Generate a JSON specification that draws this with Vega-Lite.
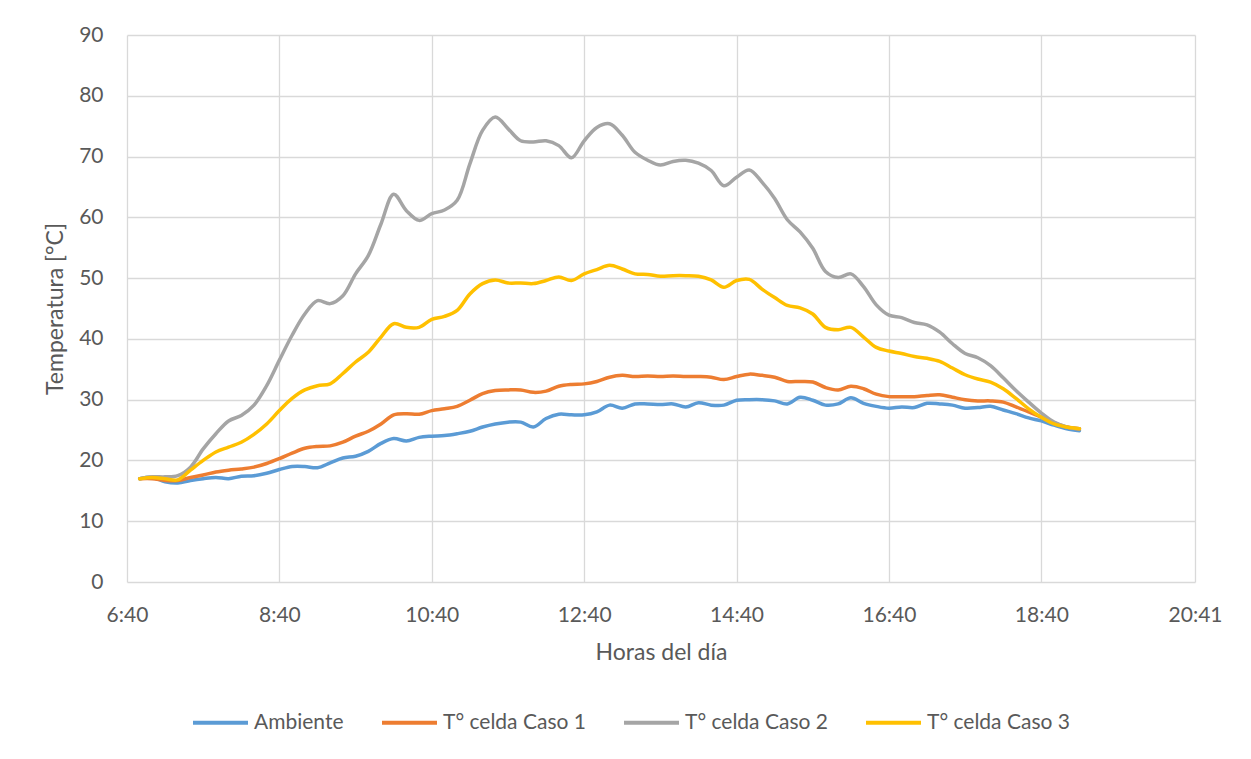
{
  "$schema": "https://vega.github.io/schema/vega-lite/v6.json",
  "width": 1068,
  "height": 547,
  "autosize": "none",
  "padding": {"left": 127, "top": 35, "right": 56, "bottom": 177},
  "background": "white",
  "config": {
    "view": {"stroke": null},
    "font": "Lato",
    "axis": {
      "grid": true,
      "gridColor": "#D9D9D9",
      "gridWidth": 1.3,
      "domain": false,
      "ticks": false,
      "labelColor": "#595959",
      "labelFontSize": 21,
      "titleColor": "#595959",
      "titleFontSize": 23,
      "titleFontWeight": "normal"
    }
  },
  "data": {
    "format": {"parse": {"hora": "date:'%H:%M'"}},
    "values": [
      {"hora": "6:50", "Ambiente": 17.0, "T° celda Caso 1": 17.0, "T° celda Caso 2": 17.0, "T° celda Caso 3": 17.0},
      {"hora": "7:00", "Ambiente": 17.2, "T° celda Caso 1": 17.0, "T° celda Caso 2": 17.3, "T° celda Caso 3": 17.2},
      {"hora": "7:10", "Ambiente": 16.5, "T° celda Caso 1": 16.7, "T° celda Caso 2": 17.3, "T° celda Caso 3": 17.0},
      {"hora": "7:20", "Ambiente": 16.3, "T° celda Caso 1": 16.7, "T° celda Caso 2": 17.5, "T° celda Caso 3": 16.8},
      {"hora": "7:30", "Ambiente": 16.7, "T° celda Caso 1": 17.2, "T° celda Caso 2": 18.9, "T° celda Caso 3": 18.4},
      {"hora": "7:40", "Ambiente": 17.0, "T° celda Caso 1": 17.6, "T° celda Caso 2": 21.9, "T° celda Caso 3": 20.0},
      {"hora": "7:50", "Ambiente": 17.2, "T° celda Caso 1": 18.1, "T° celda Caso 2": 24.4, "T° celda Caso 3": 21.4},
      {"hora": "8:00", "Ambiente": 17.0, "T° celda Caso 1": 18.4, "T° celda Caso 2": 26.5, "T° celda Caso 3": 22.2},
      {"hora": "8:10", "Ambiente": 17.4, "T° celda Caso 1": 18.6, "T° celda Caso 2": 27.4, "T° celda Caso 3": 23.0},
      {"hora": "8:20", "Ambiente": 17.5, "T° celda Caso 1": 18.9, "T° celda Caso 2": 29.1, "T° celda Caso 3": 24.3},
      {"hora": "8:30", "Ambiente": 17.9, "T° celda Caso 1": 19.5, "T° celda Caso 2": 32.3, "T° celda Caso 3": 26.0},
      {"hora": "8:40", "Ambiente": 18.5, "T° celda Caso 1": 20.3, "T° celda Caso 2": 36.5, "T° celda Caso 3": 28.2},
      {"hora": "8:50", "Ambiente": 19.0, "T° celda Caso 1": 21.2, "T° celda Caso 2": 40.6, "T° celda Caso 3": 30.2},
      {"hora": "9:00", "Ambiente": 19.0, "T° celda Caso 1": 22.0, "T° celda Caso 2": 44.1, "T° celda Caso 3": 31.6},
      {"hora": "9:10", "Ambiente": 18.8, "T° celda Caso 1": 22.3, "T° celda Caso 2": 46.3, "T° celda Caso 3": 32.3},
      {"hora": "9:20", "Ambiente": 19.6, "T° celda Caso 1": 22.4, "T° celda Caso 2": 45.8, "T° celda Caso 3": 32.6},
      {"hora": "9:30", "Ambiente": 20.4, "T° celda Caso 1": 23.0, "T° celda Caso 2": 47.1, "T° celda Caso 3": 34.3},
      {"hora": "9:40", "Ambiente": 20.7, "T° celda Caso 1": 24.0, "T° celda Caso 2": 50.7, "T° celda Caso 3": 36.2},
      {"hora": "9:50", "Ambiente": 21.5, "T° celda Caso 1": 24.8, "T° celda Caso 2": 53.7, "T° celda Caso 3": 37.8},
      {"hora": "10:00", "Ambiente": 22.8, "T° celda Caso 1": 26.0, "T° celda Caso 2": 58.9, "T° celda Caso 3": 40.3},
      {"hora": "10:10", "Ambiente": 23.6, "T° celda Caso 1": 27.5, "T° celda Caso 2": 63.8, "T° celda Caso 3": 42.5},
      {"hora": "10:20", "Ambiente": 23.2, "T° celda Caso 1": 27.7, "T° celda Caso 2": 61.1, "T° celda Caso 3": 41.9},
      {"hora": "10:30", "Ambiente": 23.8, "T° celda Caso 1": 27.6, "T° celda Caso 2": 59.5, "T° celda Caso 3": 41.9},
      {"hora": "10:40", "Ambiente": 24.0, "T° celda Caso 1": 28.2, "T° celda Caso 2": 60.6, "T° celda Caso 3": 43.2},
      {"hora": "10:50", "Ambiente": 24.1, "T° celda Caso 1": 28.5, "T° celda Caso 2": 61.2, "T° celda Caso 3": 43.7},
      {"hora": "11:00", "Ambiente": 24.4, "T° celda Caso 1": 28.9, "T° celda Caso 2": 62.8, "T° celda Caso 3": 44.7},
      {"hora": "11:10", "Ambiente": 24.8, "T° celda Caso 1": 29.9, "T° celda Caso 2": 68.8, "T° celda Caso 3": 47.4},
      {"hora": "11:20", "Ambiente": 25.5, "T° celda Caso 1": 31.0, "T° celda Caso 2": 74.3, "T° celda Caso 3": 49.1},
      {"hora": "11:30", "Ambiente": 26.0, "T° celda Caso 1": 31.5, "T° celda Caso 2": 76.5, "T° celda Caso 3": 49.7},
      {"hora": "11:40", "Ambiente": 26.3, "T° celda Caso 1": 31.6, "T° celda Caso 2": 74.6, "T° celda Caso 3": 49.2},
      {"hora": "11:50", "Ambiente": 26.3, "T° celda Caso 1": 31.6, "T° celda Caso 2": 72.6, "T° celda Caso 3": 49.2},
      {"hora": "12:00", "Ambiente": 25.5, "T° celda Caso 1": 31.2, "T° celda Caso 2": 72.4, "T° celda Caso 3": 49.1},
      {"hora": "12:10", "Ambiente": 26.9, "T° celda Caso 1": 31.4, "T° celda Caso 2": 72.6, "T° celda Caso 3": 49.6},
      {"hora": "12:20", "Ambiente": 27.6, "T° celda Caso 1": 32.2, "T° celda Caso 2": 71.8, "T° celda Caso 3": 50.2},
      {"hora": "12:30", "Ambiente": 27.5, "T° celda Caso 1": 32.5, "T° celda Caso 2": 69.8, "T° celda Caso 3": 49.6},
      {"hora": "12:40", "Ambiente": 27.5, "T° celda Caso 1": 32.6, "T° celda Caso 2": 72.6, "T° celda Caso 3": 50.7},
      {"hora": "12:50", "Ambiente": 28.0, "T° celda Caso 1": 33.0, "T° celda Caso 2": 74.8, "T° celda Caso 3": 51.4},
      {"hora": "13:00", "Ambiente": 29.1, "T° celda Caso 1": 33.7, "T° celda Caso 2": 75.4, "T° celda Caso 3": 52.1},
      {"hora": "13:10", "Ambiente": 28.6, "T° celda Caso 1": 34.0, "T° celda Caso 2": 73.5, "T° celda Caso 3": 51.5},
      {"hora": "13:20", "Ambiente": 29.3, "T° celda Caso 1": 33.8, "T° celda Caso 2": 70.7, "T° celda Caso 3": 50.7},
      {"hora": "13:30", "Ambiente": 29.3, "T° celda Caso 1": 33.9, "T° celda Caso 2": 69.4, "T° celda Caso 3": 50.6},
      {"hora": "13:40", "Ambiente": 29.2, "T° celda Caso 1": 33.8, "T° celda Caso 2": 68.6, "T° celda Caso 3": 50.3},
      {"hora": "13:50", "Ambiente": 29.3, "T° celda Caso 1": 33.9, "T° celda Caso 2": 69.2, "T° celda Caso 3": 50.4},
      {"hora": "14:00", "Ambiente": 28.8, "T° celda Caso 1": 33.8, "T° celda Caso 2": 69.4, "T° celda Caso 3": 50.4},
      {"hora": "14:10", "Ambiente": 29.5, "T° celda Caso 1": 33.8, "T° celda Caso 2": 68.9, "T° celda Caso 3": 50.3},
      {"hora": "14:20", "Ambiente": 29.1, "T° celda Caso 1": 33.7, "T° celda Caso 2": 67.7, "T° celda Caso 3": 49.7},
      {"hora": "14:30", "Ambiente": 29.1, "T° celda Caso 1": 33.3, "T° celda Caso 2": 65.2, "T° celda Caso 3": 48.5},
      {"hora": "14:40", "Ambiente": 29.9, "T° celda Caso 1": 33.8, "T° celda Caso 2": 66.6, "T° celda Caso 3": 49.6},
      {"hora": "14:50", "Ambiente": 30.0, "T° celda Caso 1": 34.2, "T° celda Caso 2": 67.8, "T° celda Caso 3": 49.8},
      {"hora": "15:00", "Ambiente": 30.0, "T° celda Caso 1": 34.0, "T° celda Caso 2": 65.8, "T° celda Caso 3": 48.2},
      {"hora": "15:10", "Ambiente": 29.8, "T° celda Caso 1": 33.7, "T° celda Caso 2": 63.1, "T° celda Caso 3": 46.8},
      {"hora": "15:20", "Ambiente": 29.3, "T° celda Caso 1": 33.0, "T° celda Caso 2": 59.6, "T° celda Caso 3": 45.5},
      {"hora": "15:30", "Ambiente": 30.4, "T° celda Caso 1": 33.0, "T° celda Caso 2": 57.6, "T° celda Caso 3": 45.1},
      {"hora": "15:40", "Ambiente": 29.9, "T° celda Caso 1": 32.9, "T° celda Caso 2": 54.9, "T° celda Caso 3": 44.1},
      {"hora": "15:50", "Ambiente": 29.1, "T° celda Caso 1": 32.0, "T° celda Caso 2": 51.1, "T° celda Caso 3": 41.9},
      {"hora": "16:00", "Ambiente": 29.3, "T° celda Caso 1": 31.6, "T° celda Caso 2": 50.1, "T° celda Caso 3": 41.5},
      {"hora": "16:10", "Ambiente": 30.3, "T° celda Caso 1": 32.2, "T° celda Caso 2": 50.7, "T° celda Caso 3": 41.9},
      {"hora": "16:20", "Ambiente": 29.4, "T° celda Caso 1": 31.8, "T° celda Caso 2": 48.6, "T° celda Caso 3": 40.3},
      {"hora": "16:30", "Ambiente": 28.9, "T° celda Caso 1": 30.9, "T° celda Caso 2": 45.6, "T° celda Caso 3": 38.6},
      {"hora": "16:40", "Ambiente": 28.6, "T° celda Caso 1": 30.5, "T° celda Caso 2": 43.9, "T° celda Caso 3": 38.0},
      {"hora": "16:50", "Ambiente": 28.8, "T° celda Caso 1": 30.5, "T° celda Caso 2": 43.5, "T° celda Caso 3": 37.6},
      {"hora": "17:00", "Ambiente": 28.7, "T° celda Caso 1": 30.5, "T° celda Caso 2": 42.7, "T° celda Caso 3": 37.1},
      {"hora": "17:10", "Ambiente": 29.4, "T° celda Caso 1": 30.7, "T° celda Caso 2": 42.3, "T° celda Caso 3": 36.8},
      {"hora": "17:20", "Ambiente": 29.3, "T° celda Caso 1": 30.8, "T° celda Caso 2": 41.1, "T° celda Caso 3": 36.3},
      {"hora": "17:30", "Ambiente": 29.1, "T° celda Caso 1": 30.4, "T° celda Caso 2": 39.2, "T° celda Caso 3": 35.2},
      {"hora": "17:40", "Ambiente": 28.6, "T° celda Caso 1": 30.0, "T° celda Caso 2": 37.6, "T° celda Caso 3": 34.1},
      {"hora": "17:50", "Ambiente": 28.7, "T° celda Caso 1": 29.8, "T° celda Caso 2": 36.9, "T° celda Caso 3": 33.4},
      {"hora": "18:00", "Ambiente": 28.9, "T° celda Caso 1": 29.8, "T° celda Caso 2": 35.6, "T° celda Caso 3": 32.9},
      {"hora": "18:10", "Ambiente": 28.3, "T° celda Caso 1": 29.6, "T° celda Caso 2": 33.6, "T° celda Caso 3": 31.8},
      {"hora": "18:20", "Ambiente": 27.7, "T° celda Caso 1": 28.8, "T° celda Caso 2": 31.5, "T° celda Caso 3": 30.2},
      {"hora": "18:30", "Ambiente": 27.0, "T° celda Caso 1": 28.0, "T° celda Caso 2": 29.6, "T° celda Caso 3": 28.5},
      {"hora": "18:40", "Ambiente": 26.5, "T° celda Caso 1": 27.1, "T° celda Caso 2": 27.8, "T° celda Caso 3": 27.1},
      {"hora": "18:50", "Ambiente": 25.8, "T° celda Caso 1": 26.2, "T° celda Caso 2": 26.3, "T° celda Caso 3": 26.0},
      {"hora": "19:00", "Ambiente": 25.2, "T° celda Caso 1": 25.5, "T° celda Caso 2": 25.5, "T° celda Caso 3": 25.5},
      {"hora": "19:10", "Ambiente": 24.9, "T° celda Caso 1": 25.2, "T° celda Caso 2": 25.2, "T° celda Caso 3": 25.2}
    ]
  },
  "transform": [
    {"fold": ["Ambiente", "T° celda Caso 1", "T° celda Caso 2", "T° celda Caso 3"], "as": ["serie", "temp"]}
  ],
  "mark": {"type": "line", "interpolate": "catmull-rom", "strokeWidth": 3.5, "strokeCap": "round", "strokeJoin": "round"},
  "encoding": {
    "x": {
      "field": "hora",
      "type": "temporal",
      "scale": {
        "domain": [
          {"year": 1900, "month": 1, "date": 1, "hours": 6, "minutes": 40},
          {"year": 1900, "month": 1, "date": 1, "hours": 20, "minutes": 41}
        ]
      },
      "axis": {
        "title": "Horas del día",
        "format": "%-H:%M",
        "values": [
          {"year": 1900, "month": 1, "date": 1, "hours": 6, "minutes": 40},
          {"year": 1900, "month": 1, "date": 1, "hours": 8, "minutes": 40},
          {"year": 1900, "month": 1, "date": 1, "hours": 10, "minutes": 40},
          {"year": 1900, "month": 1, "date": 1, "hours": 12, "minutes": 40},
          {"year": 1900, "month": 1, "date": 1, "hours": 14, "minutes": 40},
          {"year": 1900, "month": 1, "date": 1, "hours": 16, "minutes": 40},
          {"year": 1900, "month": 1, "date": 1, "hours": 18, "minutes": 40},
          {"year": 1900, "month": 1, "date": 1, "hours": 20, "minutes": 41}
        ],
        "labelPadding": 22,
        "labelFlush": false,
        "labelOverlap": false,
        "titlePadding": 16
      }
    },
    "y": {
      "field": "temp",
      "type": "quantitative",
      "scale": {"domain": [0, 90], "nice": false},
      "axis": {
        "title": "Temperatura [°C]",
        "values": [0, 10, 20, 30, 40, 50, 60, 70, 80, 90],
        "labelPadding": 24,
        "titlePadding": 11
      }
    },
    "color": {
      "field": "serie",
      "type": "nominal",
      "scale": {
        "domain": ["Ambiente", "T° celda Caso 1", "T° celda Caso 2", "T° celda Caso 3"],
        "range": ["#5B9BD5", "#ED7D31", "#A5A5A5", "#FFC000"]
      },
      "legend": {
        "title": null,
        "orient": "none",
        "direction": "horizontal",
        "legendX": 64,
        "legendY": 658,
        "symbolType": "stroke",
        "symbolSize": 3025,
        "symbolStrokeWidth": 4,
        "labelFontSize": 21,
        "labelColor": "#595959",
        "labelOffset": 4,
        "columnPadding": 30,
        "padding": 0
      }
    }
  }
}
